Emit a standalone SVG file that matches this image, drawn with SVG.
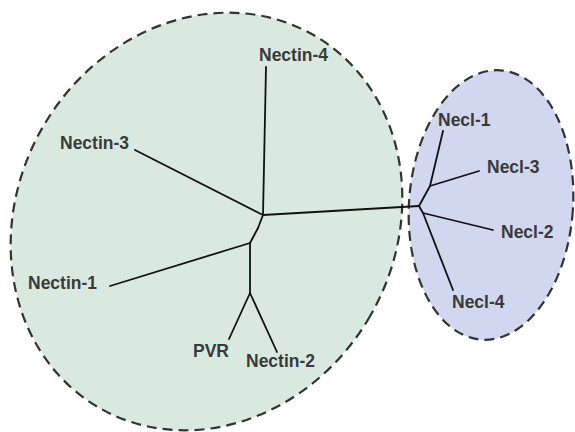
<svg xmlns="http://www.w3.org/2000/svg" width="575" height="432" viewBox="0 0 575 432">
<style>
.grp{stroke:#333;stroke-width:2.2;stroke-dasharray:10 6}
.br{fill:none;stroke:#111;stroke-width:1.8;stroke-linejoin:round;stroke-linecap:round}
.lbl{font-family:"Liberation Sans",Arial,sans-serif;font-weight:bold;font-size:17.5px;fill:#3a3a3a}
</style>
<rect width="575" height="432" fill="#fff"/>
<g id="nectin-group"><ellipse cx="206.5" cy="221.5" rx="189" ry="215" transform="rotate(30 206.5 221.5)" fill="#d9e9e0" class="grp"/></g>
<g id="necl-group"><ellipse cx="491" cy="205" rx="82" ry="135" transform="rotate(4 491 205)" fill="#d1d7ee" class="grp"/></g>
<g id="connectors">
<path class="br" d="M266,67 L263,215"/>
<path class="br" d="M135,150 L263,215"/>
<path class="br" d="M263,215 L419,206"/>
<path class="br" d="M263,215 L258,228 L250,243"/>
<path class="br" d="M110,286 L250,243"/>
<path class="br" d="M250,243 L250,293"/>
<path class="br" d="M250,293 L229,339"/>
<path class="br" d="M250,293 L277,352"/>
<path class="br" d="M419,206 L430,186 L443,131"/>
<path class="br" d="M430,186 L479,171"/>
<path class="br" d="M419,206 L423,213 L493,230"/>
<path class="br" d="M423,213 L453,290"/>
</g>
<g id="nectin-4"><text class="lbl" x="259" y="61">Nectin-4</text></g>
<g id="nectin-3"><text class="lbl" x="60" y="149">Nectin-3</text></g>
<g id="nectin-1"><text class="lbl" x="28" y="289">Nectin-1</text></g>
<g id="pvr"><text class="lbl" x="193" y="357">PVR</text></g>
<g id="nectin-2"><text class="lbl" x="246" y="367">Nectin-2</text></g>
<g id="necl-1"><text class="lbl" x="438" y="126">Necl-1</text></g>
<g id="necl-3"><text class="lbl" x="487" y="173">Necl-3</text></g>
<g id="necl-2"><text class="lbl" x="501" y="238">Necl-2</text></g>
<g id="necl-4"><text class="lbl" x="452" y="308">Necl-4</text></g>
</svg>
